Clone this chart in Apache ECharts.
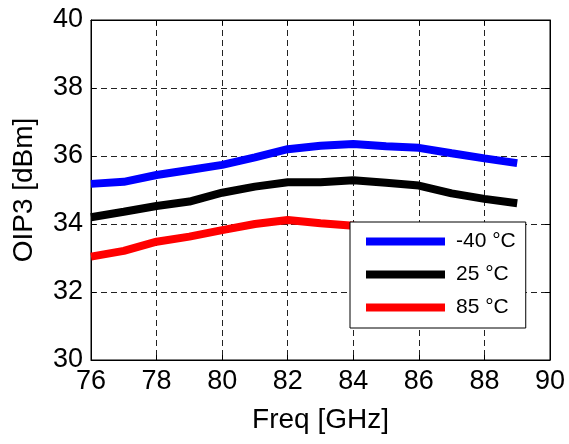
<!DOCTYPE html>
<html><head><meta charset="utf-8">
<script src="https://cdn.jsdelivr.net/npm/echarts@6/dist/echarts.min.js"></script>
<style>html,body{margin:0;padding:0;background:#fff}#c{width:569px;height:444px}</style>
</head><body><div id="c"></div>
<script>
const freq = [76,77,78,79,80,81,82,83,84,85,86,87,88,89];
const seriesNames = ['-40 °C','25 °C','85 °C'];
const cold = [35.18,35.24,35.44,35.59,35.74,35.96,36.20,36.30,36.35,36.29,36.24,36.08,35.93,35.79];
const room = [34.20,34.36,34.53,34.66,34.92,35.10,35.23,35.23,35.29,35.21,35.13,34.90,34.74,34.61];
const hot  = [33.04,33.21,33.48,33.63,33.82,34.00,34.12,34.02,33.95,33.88,33.80,33.65,33.50,33.40];
const colors = ['#0000ff','#000000','#ff0000'];

const font = 'Liberation Sans, Arial, sans-serif';
const chart = echarts.init(document.getElementById('c'));
const gridLine = {show:true, lineStyle:{color:'#222', width:1, type:[6,4]}};
const xCommon = {type:'value', min:76, max:90, interval:2};
const yCommon = {type:'value', min:30, max:40, interval:2};
const mk = (d) => freq.map((f,i)=>[f,d[i]]);
chart.setOption({
  animation:false,
  backgroundColor:'#fff',
  grid:{left:91, right:19, top:20, bottom:84, show:true, borderColor:'#000', borderWidth:1},
  xAxis:[
    Object.assign({}, xCommon, {position:'bottom', name:'Freq [GHz]', nameLocation:'middle', nameGap:46,
      nameTextStyle:{fontFamily:font, fontSize:28, color:'#000'},
      axisLine:{show:true, lineStyle:{color:'#000', width:1}},
      axisTick:{show:true, inside:true, length:5, lineStyle:{color:'#000'}},
      axisLabel:{fontFamily:font, fontSize:27, color:'#000', margin:8},
      splitLine:gridLine}),
    Object.assign({}, xCommon, {position:'top',
      axisLine:{show:true, lineStyle:{color:'#000', width:1}},
      axisTick:{show:true, inside:true, length:5, lineStyle:{color:'#000'}},
      axisLabel:{show:false}, splitLine:{show:false}})
  ],
  yAxis:[
    Object.assign({}, yCommon, {position:'left', name:'OIP3 [dBm]', nameLocation:'middle', nameGap:53,
      nameTextStyle:{fontFamily:font, fontSize:28, color:'#000'},
      axisLine:{show:true, lineStyle:{color:'#000', width:1}},
      axisTick:{show:true, inside:true, length:5, lineStyle:{color:'#000'}},
      axisLabel:{fontFamily:font, fontSize:27, color:'#000', margin:8},
      splitLine:gridLine}),
    Object.assign({}, yCommon, {position:'right',
      axisLine:{show:true, lineStyle:{color:'#000', width:1}},
      axisTick:{show:true, inside:true, length:5, lineStyle:{color:'#000'}},
      axisLabel:{show:false}, splitLine:{show:false}})
  ],
  legend:{
    left:350, top:222, orient:'vertical',
    backgroundColor:'#fff', borderColor:'#000', borderWidth:1, borderRadius:0,
    padding:[9,10,10,16], itemGap:12, itemWidth:79, itemHeight:8, icon:'rect',
    textStyle:{fontFamily:font, fontSize:21, color:'#000', padding:[0,0,0,6]},
    data:seriesNames
  },
  series:[cold, room, hot].map((d,i)=>({
    name:seriesNames[i], type:'line', data:mk(d), showSymbol:false, symbol:'none',
    lineStyle:{color:colors[i], width:8}, itemStyle:{color:colors[i]}
  }))
});
</script></body></html>
